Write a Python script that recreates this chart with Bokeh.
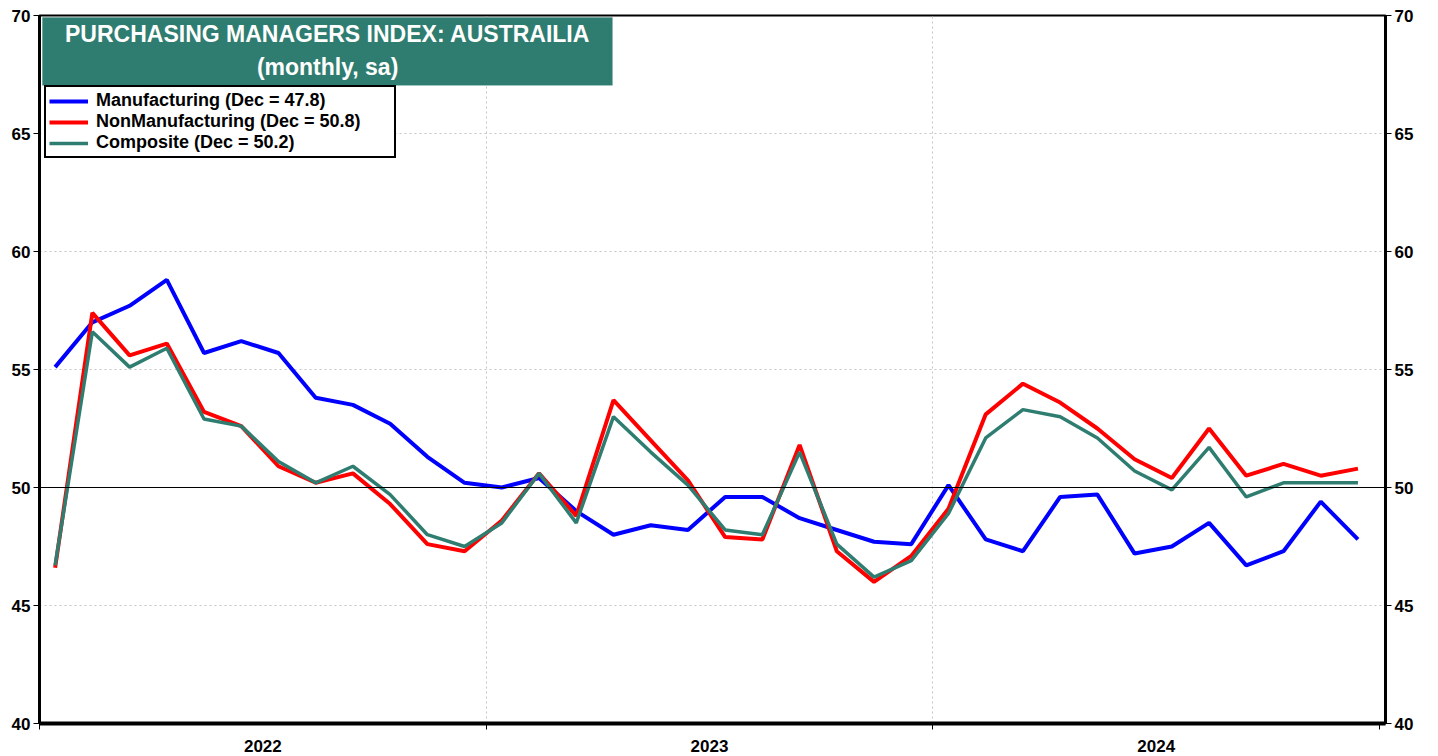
from bokeh.plotting import figure
from bokeh.models import (Range1d, LinearAxis, FixedTicker, Span, BoxAnnotation,
                          Label, Legend)
from bokeh.embed import file_html
from bokeh.resources import INLINE

# ---- data (monthly, Jan 2022 .. Dec 2024) ----
years = ["2022", "2023", "2024"]
manufacturing = [55.1, 57.0, 57.7, 58.8, 55.7, 56.2, 55.7, 53.8, 53.5, 52.7, 51.3, 50.2,
                 50.0, 50.4, 49.0, 48.0, 48.4, 48.2, 49.6, 49.6, 48.7, 48.2, 47.7, 47.6,
                 50.1, 47.8, 47.3, 49.6, 49.7, 47.2, 47.5, 48.5, 46.7, 47.3, 49.4, 47.8]
non_manufacturing = [46.6, 57.4, 55.6, 56.1, 53.2, 52.6, 50.9, 50.2, 50.6, 49.3, 47.6, 47.3,
                     48.6, 50.6, 48.8, 53.7, 52.0, 50.3, 47.9, 47.8, 51.8, 47.3, 46.0, 47.1,
                     49.1, 53.1, 54.4, 53.6, 52.5, 51.2, 50.4, 52.5, 50.5, 51.0, 50.5, 50.8]
composite = [46.7, 56.6, 55.1, 55.9, 52.9, 52.6, 51.1, 50.2, 50.9, 49.7, 48.0, 47.5,
             48.5, 50.6, 48.5, 53.0, 51.5, 50.1, 48.2, 48.0, 51.5, 47.6, 46.2, 46.9,
             48.9, 52.1, 53.3, 53.0, 52.1, 50.7, 49.9, 51.7, 49.6, 50.2, 50.2, 50.2]
y_ticks = [40, 45, 50, 55, 60, 65, 70]

# month position: month index + offset inside the month
month_x = [i + 0.42 for i in range(len(manufacturing))]

TEAL = "#2F7D70"
FONT = "Liberation Sans"

p = figure(width=1432, height=754, output_backend="svg", toolbar_location=None,
           x_range=Range1d(0, 36.16), y_range=Range1d(40, 70),
           min_border_left=39, min_border_right=47, min_border_top=15, min_border_bottom=30)
p.background_fill_color = "white"
p.border_fill_color = "white"
p.outline_line_color = "black"
p.outline_line_width = 2

# x axis: labels at mid-year, ticks at year boundaries
xa = p.xaxis[0]
xa.ticker = FixedTicker(ticks=[6, 18, 30], minor_ticks=[0, 12, 24, 36])
xa.major_label_overrides = {6: years[0], 18: years[1], 30: years[2]}
xa.major_tick_out = 0
xa.major_tick_in = 0
xa.minor_tick_out = 6
xa.minor_tick_in = 0
xa.minor_tick_line_color = "black"
xa.axis_line_width = 4
xa.axis_line_color = "black"
xa.major_label_text_font = FONT
xa.major_label_text_font_style = "bold"
xa.major_label_text_font_size = "17px"
xa.major_label_text_color = "black"
xa.major_label_standoff = 10

def style_y(ax):
    ax.ticker = FixedTicker(ticks=y_ticks)
    ax.major_tick_out = 6
    ax.major_tick_in = 0
    ax.minor_tick_out = 0
    ax.minor_tick_in = 0
    ax.axis_line_width = 3
    ax.axis_line_color = "black"
    ax.major_tick_line_color = "black"
    ax.major_label_text_font = FONT
    ax.major_label_text_font_style = "bold"
    ax.major_label_text_font_size = "17px"
    ax.major_label_text_color = "black"
    ax.major_label_standoff = 3

style_y(p.yaxis[0])
ry = LinearAxis()
style_y(ry)
p.add_layout(ry, "right")

# grids
p.xgrid.ticker = FixedTicker(ticks=[12, 24])
p.ygrid.ticker = FixedTicker(ticks=[45, 55, 60, 65])
for g in (p.xgrid[0], p.ygrid[0]):
    g.grid_line_color = "#c4c4c4"
    g.grid_line_dash = "2 3"
    g.grid_line_width = 1

p.add_layout(Span(location=50, dimension="width", line_color="black", line_width=1))

r1 = p.line(month_x, manufacturing, line_color="#0000FF", line_width=4)
r2 = p.line(month_x, non_manufacturing, line_color="#FF0000", line_width=4)
r3 = p.line(month_x, composite, line_color=TEAL, line_width=3.5)

# title box
p.add_layout(BoxAnnotation(left=0.08, right=15.39, top=69.92, bottom=67.04,
                           fill_color=TEAL, fill_alpha=1, line_color=TEAL))
for txt, yy in (("PURCHASING MANAGERS INDEX: AUSTRAILIA", 69.2), ("(monthly, sa)", 67.8)):
    p.add_layout(Label(x=7.74, y=yy, text=txt, text_align="center", text_baseline="middle",
                       text_color="white", text_font=FONT, text_font_style="bold",
                       text_font_size="23px"))

legend = Legend(items=[("Manufacturing (Dec = 47.8)", [r1]),
                       ("NonManufacturing (Dec = 50.8)", [r2]),
                       ("Composite (Dec = 50.2)", [r3])],
                location=(5, 565))
legend.label_text_font = FONT
legend.label_text_font_style = "bold"
legend.label_text_font_size = "18px"
legend.label_text_color = "black"
legend.label_height = 20
legend.glyph_height = 20
legend.glyph_width = 39
legend.label_standoff = 8
legend.label_width = 295
legend.spacing = 0
legend.padding = 3
legend.margin = 0
legend.border_line_color = "black"
legend.border_line_alpha = 1
legend.border_line_width = 2
legend.background_fill_color = "white"
legend.background_fill_alpha = 1
p.add_layout(legend)

open("out.html", "w").write(file_html(p, INLINE))
